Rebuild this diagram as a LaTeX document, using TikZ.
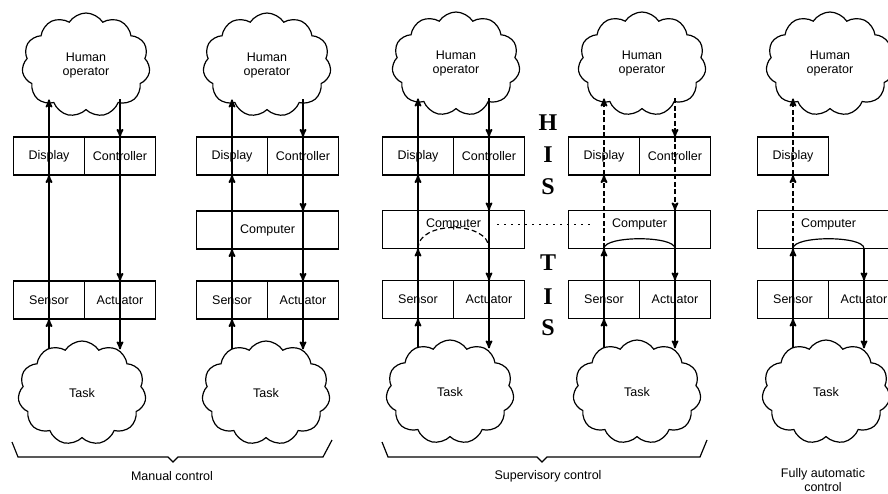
\documentclass[tikz,border=0pt]{standalone}
\usepackage{fontspec}
\setmainfont{Liberation Sans}
\newfontfamily\letterfont{Liberation Serif}
\usetikzlibrary{shapes.symbols,positioning,arrows,calc}

\begin{document}
\begin{tikzpicture}[x=1pt, y=-1pt, >=stealth', line width=1.2pt,
	font=\fontsize{12.5}{14}\selectfont,
	cell/.style={draw, rectangle, minimum width=71pt, minimum height=38pt, inner sep=0pt, outer sep=0pt},
	wide/.style={cell, minimum width=142pt},
	raised/.style={text depth=13pt},
	sky/.style={draw, cloud, cloud puffs=11, cloud puff arc=115, cloud ignores aspect, minimum width=128pt, minimum height=104pt, align=center, inner sep=0pt},
	flow/.style={->, line width=1.7pt},
	remote/.style={flow, dash pattern=on 5pt off 2.5pt},
	link/.style={line width=1.5pt, dash pattern=on 1.5pt off 5.5pt},
	bracket/.style={line width=1.2pt},
	letter/.style={font=\fontsize{24}{24}\selectfont\letterfont\bfseries}]
	\useasboundingbox (0,0) rectangle (888,494);
	\clip (0,0) rectangle (888,494);

	% manual control
	\node[sky](H1) at (86,65){Human\\operator};
	\node[cell](D1) at (49,156){Display};
	\node[cell,right=0pt of D1](C1){Controller};
	\node[cell](S1) at (49,300){Sensor};
	\node[cell,right=0pt of S1](A1){Actuator};
	\node[sky](T1) at (82,393){Task};
	\draw[flow] ($(S1 |- T1.north)+(0,9)$) -- (S1.south);
	\draw[flow] (S1.south) -- (D1.south);
	\draw[flow] (D1.south) -- ($(D1 |- H1.south)+(0,-11)$);
	\draw[flow] ($(C1 |- H1.south)+(0,-11)$) -- (C1.north);
	\draw[flow] (C1.north) -- (A1.north);
	\draw[flow] (A1.north) -- ($(A1 |- T1.north)+(0,9)$);

	\node[sky](H2) at (267,65){Human\\operator};
	\node[cell](D2) at (232,156){Display};
	\node[cell,right=0pt of D2](C2){Controller};
	\node[wide](P2) at (267.5,230){Computer};
	\node[cell](S2) at (232,300){Sensor};
	\node[cell,right=0pt of S2](A2){Actuator};
	\node[sky](T2) at (266,393){Task};
	\draw[flow] ($(S2 |- T2.north)+(0,9)$) -- (S2.south);
	\draw[flow] (S2.south) -- (S2 |- P2.south);
	\draw[flow] (S2 |- P2.south) -- (D2.south);
	\draw[flow] (D2.south) -- ($(D2 |- H2.south)+(0,-11)$);
	\draw[flow] ($(C2 |- H2.south)+(0,-11)$) -- (C2.north);
	\draw[flow] (C2.north) -- (C2 |- P2.north);
	\draw[flow] (C2 |- P2.north) -- (A2.north);
	\draw[flow] (A2.north) -- ($(A2 |- T2.north)+(0,9)$);

	% supervisory control
	\node[sky](H3) at (456,64){Human\\operator};
	\node[cell](D3) at (418,156){Display};
	\node[cell,right=0pt of D3](C3){Controller};
	\node[wide,raised](P3) at (453.5,229.5){Computer};
	\node[cell](S3) at (418,299.5){Sensor};
	\node[cell,right=0pt of S3](A3){Actuator};
	\node[sky](T3) at (450,392){Task};
	\draw[flow] ($(S3 |- T3.north)+(0,9)$) -- (S3.south);
	\draw[flow] (S3.south) -- (S3 |- P3.south);
	\draw[flow] (S3 |- P3.south) -- (D3.south);
	\draw[flow] (D3.south) -- ($(D3 |- H3.south)+(0,-11)$);
	\draw[flow] ($(C3 |- H3.south)+(0,-11)$) -- (C3.north);
	\draw[flow] (C3.north) -- (C3 |- P3.north);
	\draw[flow] (C3 |- P3.north) -- (A3.north);
	\draw[flow] (A3.north) -- ($(A3 |- T3.north)+(0,9)$);
	\draw[dash pattern=on 5pt off 3pt] (D3 |- P3.south) .. controls +(0,-28) and +(0,-28) .. (C3 |- P3.south);

	\node[sky](H4) at (642,64){Human\\operator};
	\node[cell](D4) at (604,156){Display};
	\node[cell,right=0pt of D4](C4){Controller};
	\node[wide,raised](P4) at (639.5,229.5){Computer};
	\node[cell](S4) at (604,299.5){Sensor};
	\node[cell,right=0pt of S4](A4){Actuator};
	\node[sky](T4) at (637,392){Task};
	\draw[flow] ($(S4 |- T4.north)+(0,9)$) -- (S4.south);
	\draw[flow] (S4.south) -- (S4 |- P4.south);
	\draw[remote] (S4 |- P4.south) -- (D4.south);
	\draw[remote] (D4.south) -- ($(D4 |- H4.south)+(0,-11)$);
	\draw[remote] ($(C4 |- H4.south)+(0,-11)$) -- (C4.north);
	\draw[remote] (C4.north) -- (C4 |- P4.north);
	\draw[flow] (C4 |- P4.north) -- (A4.north);
	\draw[flow] (A4.north) -- ($(A4 |- T4.north)+(0,9)$);
	\draw (D4 |- P4.south) .. controls +(0,-13) and +(0,-13) .. (C4 |- P4.south);

	\draw[link] ([xshift=8pt,yshift=5pt]C3 |- P3.center) -- ([xshift=-11pt,yshift=5pt]D4 |- P4.center);

	% H I S / T I S
	\node[letter](hisH) at (548,123){H};
	\node[letter](hisI) at (548,155){I};
	\node[letter](hisS) at (548,187){S};
	\node[letter](tisT) at (548,263){T};
	\node[letter](tisI) at (548,297){I};
	\node[letter](tisS) at (548,328){S};

	% fully automatic control
	\node[sky](H5) at (830,64){Human\\operator};
	\node[cell](D5) at (793,156){Display};
	\node[wide,raised](P5) at (828.5,229.5){Computer};
	\node[cell](S5) at (793,299.5){Sensor};
	\node[cell,right=0pt of S5](A5){Actuator};
	\node[sky](T5) at (826,392){Task};
	\draw[flow] ($(S5 |- T5.north)+(0,9)$) -- (S5.south);
	\draw[flow] (S5.south) -- (S5 |- P5.south);
	\draw[remote] (S5 |- P5.south) -- (D5.south);
	\draw[remote] (D5.south) -- ($(D5 |- H5.south)+(0,-11)$);
	\draw[flow] (A5 |- P5.south) -- (A5.north);
	\draw[flow] (A5.north) -- ($(A5 |- T5.north)+(0,9)$);
	\draw (S5 |- P5.south) .. controls +(0,-13) and +(0,-13) .. (A5 |- P5.south);

	% brackets
	\draw[bracket] (12,442) -- (18,457) -- (168,457) -- (173,462) -- (178,457) -- (323,457) -- (332,440);
	\draw[bracket] (382,442) -- (388,457) -- (537,457) -- (542,462) -- (547,457) -- (700,457) -- (707,440);
	\node(manual) at (172,476){Manual control};
	\node(supervisory) at (548,476){Supervisory control};
	\node[align=center](automatic) at (823,480){Fully automatic\\control};
\end{tikzpicture}
\end{document}
